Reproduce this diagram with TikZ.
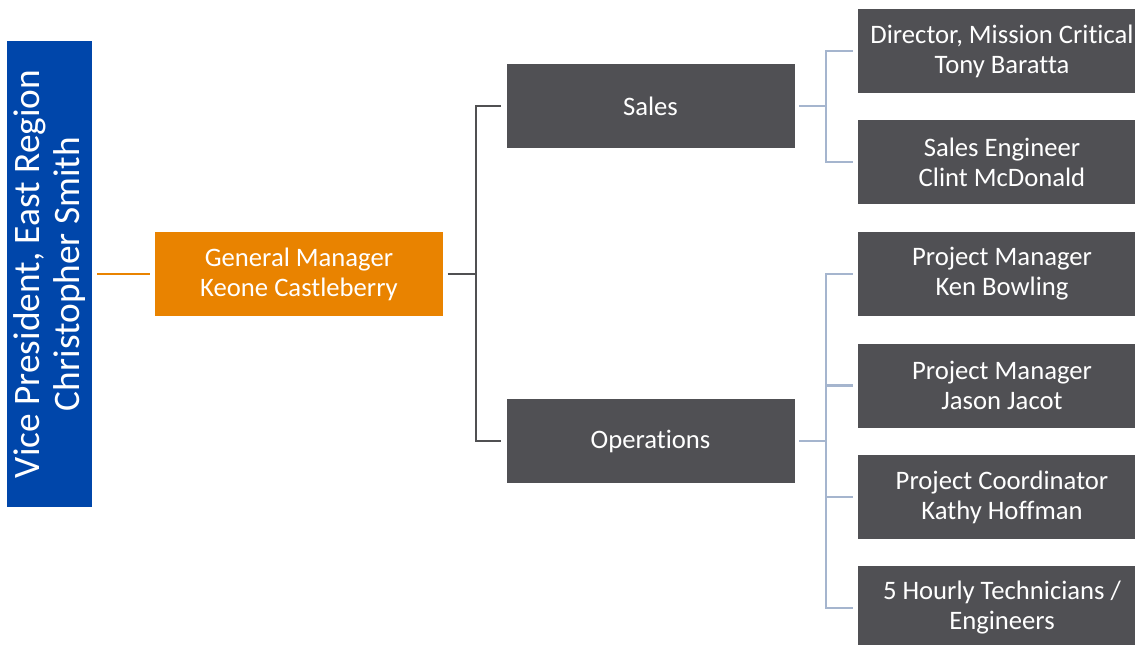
\documentclass[tikz,border=0pt]{standalone}
\usepackage{fontspec}
\setmainfont{Carlito}[Ligatures=CommonOff]
\usetikzlibrary{positioning}
\definecolor{vpblue}{RGB}{0,70,170}
\definecolor{gmorange}{RGB}{233,131,0}
\definecolor{boxgrey}{RGB}{80,80,84}
\definecolor{linkgrey}{RGB}{80,80,82}
\definecolor{linkblue}{RGB}{165,181,206}
\tikzset{
	unit/.style={fill=boxgrey,text=white,minimum width=216pt,minimum height=63pt,
		inner sep=0pt,align=center,font=\fontsize{20}{22.5}\selectfont},
	link/.style={line width=1.8pt,shorten <=3.5pt,shorten >=3.8pt}
}
\begin{document}
\begin{tikzpicture}[x=0.75pt,y=-0.75pt]
\useasboundingbox (0,0) rectangle (1135,645);
\node[unit,fill=vpblue,rotate=90,minimum width=349.5pt,minimum height=64pt,
	font=\fontsize{28}{30.5}\selectfont] (vp) at (49.5,274)
	{Vice President, East Region\\Christopher Smith};
\node[unit,fill=gmorange] (gm) at (299,274) {General Manager\\Keone Castleberry};
\node[unit] (sales) at (650.5,106) {Sales};
\node[unit] (ops) at (650.5,441) {Operations};
\node[unit] (dir) at (1002,51) {Director, Mission Critical\\Tony Baratta};
\node[unit] (seng) at (1002,162) {Sales Engineer\\Clint McDonald};
\foreach \n/\y/\t in {pmken/274/{Project Manager\\Ken Bowling},
		pmjason/385.5/{Project Manager\\Jason Jacot},
		coord/497/{Project Coordinator\\Kathy Hoffman},
		tech/608/{5 Hourly Technicians /\\Engineers}}
	\node[unit] (\n) at (1002,\y) {\t};
% connectors
\draw[link,gmorange] (vp.south |- gm.west) -- (gm.west);
\foreach \n in {sales,ops}
	\draw[link,linkgrey] (gm.east) -- ++(33,0) |- (\n.west);
\foreach \n in {dir,seng}
	\draw[link,linkblue] (sales.east) -- ++(31,0) |- (\n.west);
\foreach \n in {pmken,pmjason,coord,tech}
	\draw[link,linkblue] (ops.east) -- ++(31,0) |- (\n.west);
\end{tikzpicture}
\end{document}
